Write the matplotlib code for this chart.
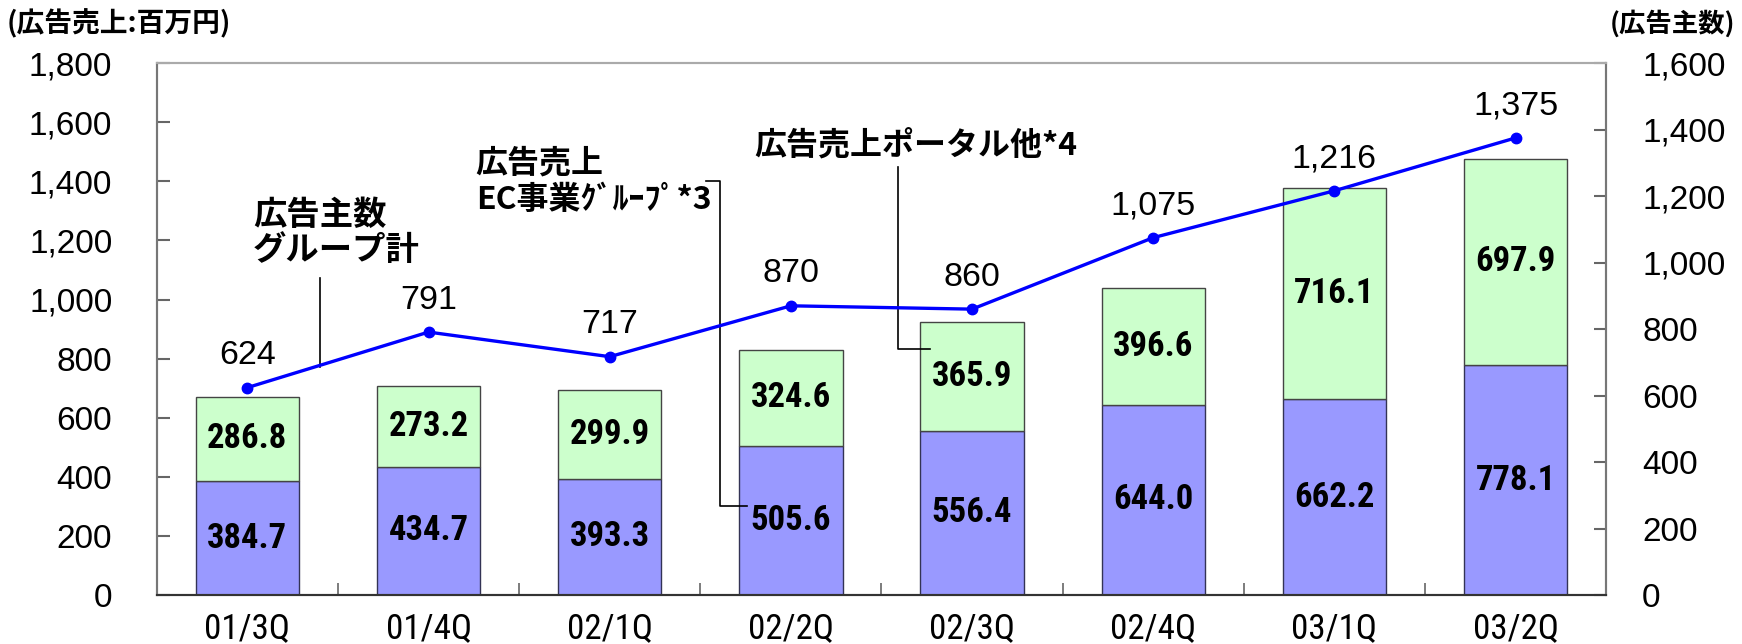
import numpy as np
import matplotlib
matplotlib.use('Agg')
import matplotlib.pyplot as plt
from matplotlib import font_manager
from matplotlib.ticker import FixedLocator, FuncFormatter

quarters = ['01/3Q', '01/4Q', '02/1Q', '02/2Q', '02/3Q', '02/4Q', '03/1Q', '03/2Q']
ec_sales = [384.7, 434.7, 393.3, 505.6, 556.4, 644.0, 662.2, 778.1]
portal_sales = [286.8, 273.2, 299.9, 324.6, 365.9, 396.6, 716.1, 697.9]
advertisers = [624, 791, 717, 870, 860, 1075, 1216, 1375]

left_ticks = list(range(0, 1801, 200))
right_ticks = list(range(0, 1601, 200))

JP = 'Noto Sans CJK JP'
NUM = 'Liberation Sans'

# narrow face with a static bold cut, for the bar labels
fonts = font_manager.fontManager.ttflist
bold_names = {f.name for f in fonts
              if isinstance(f.weight, int) and f.weight >= 600 and '[' not in f.fname}
NARROW = NUM
for cand in ['Arial Narrow', 'Liberation Sans Narrow', 'Archivo Narrow', 'Roboto Condensed',
             'IBM Plex Sans Condensed', 'Fira Sans Condensed', 'PT Sans Narrow']:
    if cand in bold_names:
        NARROW = cand
        break
BAR_W = 'semibold'

fig = plt.figure(figsize=(17.42, 6.44), dpi=100)
renderer = fig.canvas.get_renderer()


def fit_size(sample, family, weight, target_px):
    # font size giving the wanted pixel width for a sample string
    t = fig.text(0, 0, sample, family=family, fontweight=weight, fontsize=20)
    wpx = t.get_window_extent(renderer).width
    t.remove()
    return 20 * target_px / wpx


bar_fs = fit_size('384.7', NARROW, BAR_W, 80)
xlab_fs = fit_size('01/3Q', NARROW, 'normal', 86)

ax = fig.add_axes([0.090, 0.076, 0.832, 0.826])
ax2 = ax.twinx()

x = np.arange(len(quarters))
w = 0.57
ax.bar(x, ec_sales, w, color='#9999ff', edgecolor='#333355', linewidth=1.0, zorder=2)
ax.bar(x, portal_sales, w, bottom=ec_sales, color='#ccffcc', edgecolor='#444444',
       linewidth=1.0, zorder=2)

for i in range(len(x)):
    ax.text(x[i], ec_sales[i] / 2, '%.1f' % ec_sales[i], ha='center', va='center',
            fontsize=bar_fs, family=NARROW, fontweight=BAR_W, zorder=3)
    ax.text(x[i], ec_sales[i] + portal_sales[i] / 2, '%.1f' % portal_sales[i],
            ha='center', va='center', fontsize=bar_fs, family=NARROW, fontweight=BAR_W,
            zorder=3)

ax2.plot(x, advertisers, color='#0000ff', lw=2.4, marker='o', ms=7.5, zorder=4)
for i in range(len(x)):
    ax2.annotate('{:,}'.format(advertisers[i]), (x[i], advertisers[i]), xytext=(0, 23),
                 textcoords='offset points', ha='center', va='center',
                 fontsize=24.5, family=NUM)

ax.set_xlim(-0.5, len(quarters) - 0.5)
ax.set_ylim(0, 1800)
ax2.set_ylim(0, 1600)

ax.set_xticks(x)
ax.set_xticklabels(quarters, fontsize=xlab_fs, family=NARROW)
ax.xaxis.set_minor_locator(FixedLocator(x[:-1] + 0.5))
ax.tick_params(axis='x', which='major', length=0, pad=12)
ax.tick_params(axis='x', which='minor', direction='in', length=9, width=1.2, color='#666666')

fmt = FuncFormatter(lambda v, p: '{:,}'.format(int(v)))
ax.set_yticks(left_ticks)
ax.yaxis.set_major_formatter(fmt)
ax.tick_params(axis='y', direction='in', length=9, width=1.5, color='#666666', pad=32,
               labelsize=24)
ax2.set_yticks(right_ticks)
ax2.yaxis.set_major_formatter(fmt)
ax2.tick_params(axis='y', direction='in', length=9, width=1.5, color='#666666', pad=26,
                labelsize=24)
for lab in ax.get_yticklabels() + ax2.get_yticklabels():
    lab.set_family(NUM)

for a in (ax, ax2):
    for s in a.spines.values():
        s.set_color('#777777')
        s.set_linewidth(1.5)
    a.spines['top'].set_color('#aaaaaa')
    a.spines['bottom'].set_color('#333333')

# unit labels
fig.text(0.004, 0.963, '(広告売上:百万円)', family=JP, fontweight='bold', fontsize=20,
         ha='left', va='center')
fig.text(0.996, 0.963, '(広告主数)', family=JP, fontweight='bold', fontsize=19,
         ha='right', va='center')

# callouts
ax.text(0.03, 1225, '広告主数\nグループ計', family=JP, fontweight='bold', fontsize=24,
        ha='left', va='center', linespacing=1.05)
ax.plot([0.40, 0.40], [1072, 771], color='black', lw=1.2, clip_on=False, zorder=5)

ax.text(1.26, 1397, '広告売上\nEC事業ｸﾞﾙｰﾌﾟ*3', family=JP, fontweight='bold', fontsize=23,
        ha='left', va='center', linespacing=1.18)
ax.plot([2.53, 2.61, 2.61, 2.76], [1400, 1400, 300, 300], color='black', lw=1.2,
        clip_on=False, zorder=5)

ax.text(2.80, 1518, '広告売上ポータル他*4', family=JP, fontweight='bold', fontsize=23,
        ha='left', va='center')
ax.plot([3.59, 3.59, 3.77], [1448, 832, 832], color='black', lw=1.2, clip_on=False, zorder=5)

fig.savefig('out.png', dpi=100)
